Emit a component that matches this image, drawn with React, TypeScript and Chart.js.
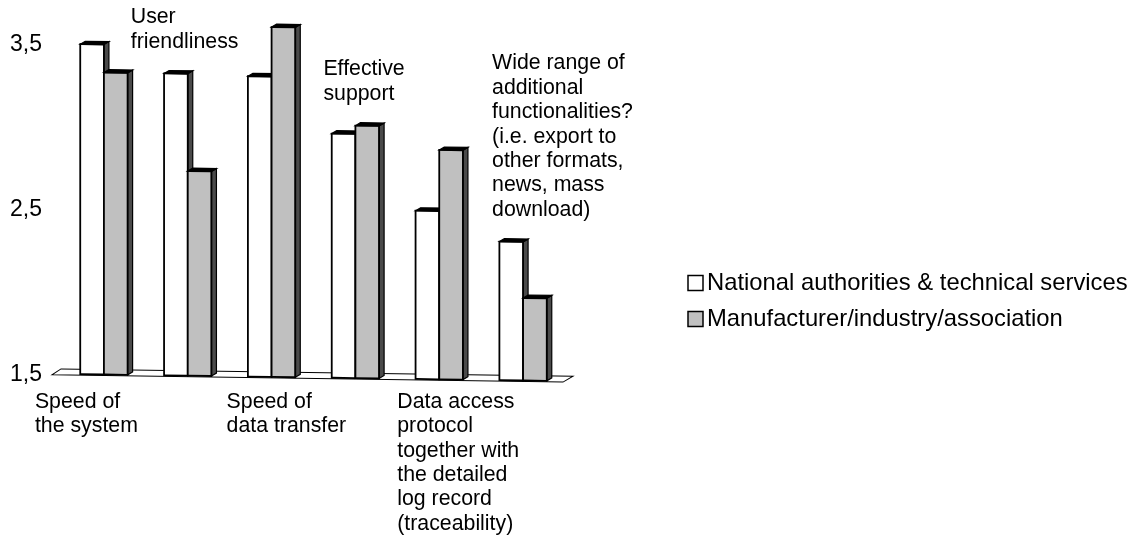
import React, { useEffect, useRef } from "react";
import { Chart, registerables } from "chart.js";

Chart.register(...registerables);

// ---- data ----
const categories: string[][] = [
  ["Speed of", "the system"],
  ["User", "friendliness"],
  ["Speed of", "data transfer"],
  ["Effective", "support"],
  ["Data access", "protocol", "together with", "the detailed", "log record", "(traceability)"],
  ["Wide range of", "additional", "functionalities?", "(i.e. export to", "other formats,", "news, mass", "download)"],
];
const nationalValues = [3.5, 3.33, 3.32, 2.98, 2.52, 2.34];
const manufacturerValues = [3.33, 2.74, 3.62, 3.03, 2.89, 2.0];
const seriesNames = ["National authorities & technical services", "Manufacturer/industry/association"];
const yTickValues = [1.5, 2.5, 3.5];
const yMin = 1.5;
const yMax = 3.7;

// ---- styles ----
const FONT = "'Liberation Sans', Arial, Helvetica, sans-serif";
const seriesFill = ["#ffffff", "#c0c0c0"];
const SIDE_FILL = "#4a4a4a";
const DEPTH_X = 5;
const DEPTH_Y = 3;
const SHEAR = 0.0143;
const labelDx = [-69, -57, -45, -32, -42, -31];
const LINE_H = 24.4;

function shear(ctx: CanvasRenderingContext2D, x0: number) {
  ctx.transform(1, SHEAR, 0, 1, 0, -SHEAR * x0);
}

const bars3d = {
  id: "bars3d",
  beforeDatasetDraw() {
    return false;
  },
  afterDatasetsDraw(chart: any) {
    const { ctx, chartArea, scales } = chart;
    const x0 = scales.x.getPixelForValue(0);
    const base = scales.y.getPixelForValue(yMin);
    ctx.save();
    shear(ctx, x0);
    // floor
    ctx.beginPath();
    ctx.moveTo(chartArea.left - 10, base + 1);
    ctx.lineTo(chartArea.right - 2, base + 1);
    ctx.lineTo(chartArea.right + 8, base - 5);
    ctx.lineTo(chartArea.left - 1, base - 5);
    ctx.closePath();
    ctx.fillStyle = "#ffffff";
    ctx.fill();
    ctx.lineWidth = 1;
    ctx.strokeStyle = "#000";
    ctx.stroke();

    const metas = chart.data.datasets.map((_: any, d: number) => chart.getDatasetMeta(d));
    for (let i = 0; i < categories.length; i++) {
      metas.forEach((meta: any, d: number) => {
        const el = meta.data[i];
        if (!el) return;
        const { x, y, width } = el.getProps(["x", "y", "width"], true);
        const b = base;
        const left = x - width / 2;
        const right = x + width / 2;
        ctx.fillStyle = seriesFill[d];
        ctx.fillRect(left, y, width, b - y);
        // side face
        ctx.beginPath();
        ctx.moveTo(right, y);
        ctx.lineTo(right + DEPTH_X, y - DEPTH_Y);
        ctx.lineTo(right + DEPTH_X, b - DEPTH_Y);
        ctx.lineTo(right, b);
        ctx.closePath();
        ctx.fillStyle = SIDE_FILL;
        ctx.fill();
        ctx.lineWidth = 1.2;
        ctx.strokeStyle = "#000";
        ctx.stroke();
        // top face
        ctx.beginPath();
        ctx.moveTo(left, y);
        ctx.lineTo(left + DEPTH_X, y - DEPTH_Y);
        ctx.lineTo(right + DEPTH_X, y - DEPTH_Y);
        ctx.lineTo(right, y);
        ctx.closePath();
        ctx.fillStyle = "#000";
        ctx.fill();
        ctx.stroke();
        // front outline
        ctx.lineWidth = 1.8;
        ctx.strokeRect(left, y, width, b - y);
      });
    }
    ctx.restore();
  },
  afterDraw(chart: any) {
    const { ctx, scales } = chart;
    const x0 = scales.x.getPixelForValue(0);
    ctx.save();
    ctx.fillStyle = "#000";
    ctx.textAlign = "left";
    ctx.textBaseline = "middle";
    ctx.font = `21.3px ${FONT}`;
    const bottomY = scales.y.getPixelForValue(yMin) + 27.5;
    categories.forEach((lines, i) => {
      const xc = scales.x.getPixelForValue(i);
      const lx = xc + labelDx[i];
      if (i % 2 === 0) {
        lines.forEach((t, k) => ctx.fillText(t, lx, bottomY + k * LINE_H));
      } else {
        const maxV = Math.max(nationalValues[i], manufacturerValues[i]);
        const topY = scales.y.getPixelForValue(maxV) + SHEAR * (xc - x0);
        const last = topY - 32;
        const first = last - (lines.length - 1) * LINE_H;
        lines.forEach((t, k) => ctx.fillText(t, lx, first + k * LINE_H));
      }
    });
    // legend
    ctx.font = `23.8px ${FONT}`;
    const legendY = [283, 319];
    seriesNames.forEach((name, d) => {
      const cy = legendY[d];
      ctx.fillStyle = seriesFill[d];
      ctx.fillRect(688, cy - 7.5, 15, 15);
      ctx.lineWidth = 1.5;
      ctx.strokeStyle = "#000";
      ctx.strokeRect(688, cy - 7.5, 15, 15);
      ctx.fillStyle = "#000";
      ctx.fillText(name, 707, cy);
    });
    ctx.restore();
  },
};

export default function App() {
  const ref = useRef<HTMLCanvasElement | null>(null);
  useEffect(() => {
    document.body.style.margin = "0";
    const canvas = ref.current!;
    const chart = new Chart(canvas, {
      type: "bar",
      data: {
        labels: categories.map((c) => c.join(" ")),
        datasets: [
          { label: seriesNames[0], data: nationalValues, backgroundColor: seriesFill[0], borderColor: "#000", borderWidth: 1 },
          { label: seriesNames[1], data: manufacturerValues, backgroundColor: seriesFill[1], borderColor: "#000", borderWidth: 1 },
        ],
      },
      options: {
        responsive: false,
        devicePixelRatio: 1,
        animation: false,
        layout: { padding: { left: 0, right: 572, top: 11.5, bottom: 167.5 } },
        datasets: { bar: { categoryPercentage: 0.565, barPercentage: 1 } } as any,
        plugins: { legend: { display: false }, tooltip: { enabled: false } },
        scales: {
          x: { display: false, grid: { display: false } },
          y: {
            min: yMin,
            max: yMax,
            grid: { display: false, drawTicks: false },
            border: { display: false },
            afterBuildTicks: (scale: any) => {
              scale.ticks = yTickValues.map((v) => ({ value: v }));
            },
            afterFit: (scale: any) => {
              scale.width = 62;
              scale.paddingTop = 0;
              scale.paddingBottom = 0;
            },
            ticks: {
              padding: 20,
              color: "#000",
              font: { family: FONT, size: 23 },
              callback: (v: any) => String(v).replace(".", ","),
            },
          },
        },
      },
      plugins: [bars3d],
    });
    return () => chart.destroy();
  }, []);
  return (
    <div style={{ position: "fixed", left: 0, top: 0, width: 1137, height: 542, background: "#fff" }}>
      <canvas ref={ref} width={1137} height={542} />
    </div>
  );
}
